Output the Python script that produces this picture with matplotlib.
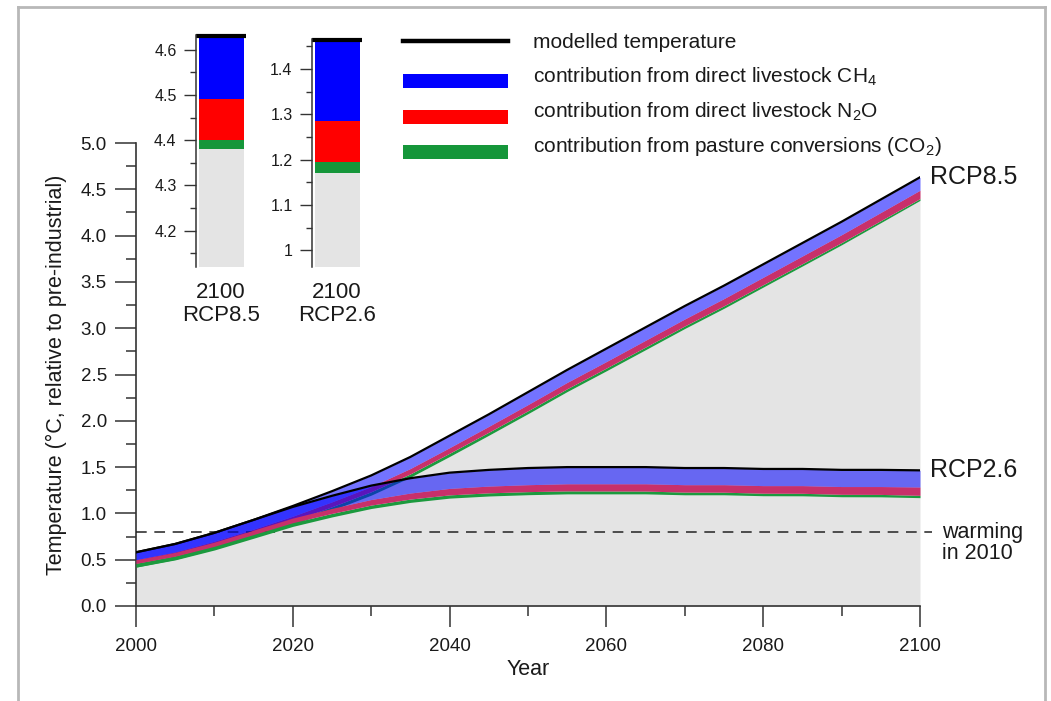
"""Livestock contribution to modelled warming, RCP8.5 vs RCP2.6, redrawn with matplotlib."""
import matplotlib

matplotlib.use("Agg")
import matplotlib.pyplot as plt  # noqa: E402
from matplotlib.lines import Line2D  # noqa: E402
from matplotlib.patches import Rectangle  # noqa: E402
from matplotlib.ticker import MultipleLocator, FormatStrFormatter, FuncFormatter  # noqa: E402

plt.rcParams["font.family"] = ["Liberation Sans", "DejaVu Sans"]
plt.rcParams["mathtext.fontset"] = "custom"
plt.rcParams["mathtext.rm"] = "Liberation Sans"
plt.rcParams["mathtext.it"] = "Liberation Sans:italic"

# ---------------------------------------------------------------- data
years = list(range(2000, 2101, 5))

rcp85_temp = [0.58, 0.67, 0.79, 0.93, 1.08, 1.24, 1.41, 1.61, 1.84, 2.07, 2.31,
              2.55, 2.78, 3.01, 3.24, 3.46, 3.69, 3.92, 4.15, 4.39, 4.63]
rcp85_ch4 = [0.08, 0.085, 0.09, 0.10, 0.11, 0.115, 0.12, 0.125, 0.13, 0.13, 0.135,
             0.135, 0.14, 0.14, 0.14, 0.14, 0.14, 0.14, 0.14, 0.14, 0.14]
rcp85_n2o = [0.04, 0.042, 0.045, 0.048, 0.05, 0.053, 0.056, 0.058, 0.06, 0.063, 0.066,
             0.068, 0.07, 0.073, 0.075, 0.078, 0.08, 0.083, 0.085, 0.088, 0.09]
rcp85_co2 = [0.04, 0.04, 0.04, 0.04, 0.04, 0.038, 0.037, 0.036, 0.035, 0.033, 0.032,
             0.031, 0.03, 0.029, 0.028, 0.027, 0.026, 0.025, 0.024, 0.022, 0.02]

rcp26_temp = [0.58, 0.67, 0.79, 0.93, 1.07, 1.19, 1.30, 1.38, 1.44, 1.47, 1.49,
              1.50, 1.50, 1.50, 1.49, 1.49, 1.48, 1.48, 1.47, 1.47, 1.465]
rcp26_ch4 = [0.08, 0.09, 0.10, 0.11, 0.12, 0.135, 0.15, 0.16, 0.17, 0.175, 0.18,
             0.18, 0.18, 0.18, 0.18, 0.18, 0.18, 0.18, 0.18, 0.18, 0.18]
rcp26_n2o = [0.04, 0.042, 0.045, 0.048, 0.05, 0.055, 0.06, 0.065, 0.07, 0.073, 0.075,
             0.077, 0.078, 0.079, 0.08, 0.081, 0.082, 0.083, 0.084, 0.085, 0.09]
rcp26_co2 = [0.04, 0.04, 0.04, 0.04, 0.04, 0.038, 0.037, 0.036, 0.035, 0.034, 0.033,
             0.032, 0.031, 0.03, 0.029, 0.028, 0.027, 0.027, 0.026, 0.026, 0.025]

warming_2010 = 0.8

legend_labels = ["modelled temperature",
                 "contribution from direct livestock CH$_4$",
                 "contribution from direct livestock N$_2$O",
                 "contribution from pasture conversions (CO$_2$)"]

# ---------------------------------------------------------------- style
BLUE_BAND = "#0000ff"
RED_BAND = "#c8306a"
GREEN_BAND = "#1c9a3e"
BLUE_BAR = "#0000ff"
RED_BAR = "#ff0000"
GREEN_BAR = "#15963a"
GRAY = "#e4e4e4"
TEXT = "#1a1a1a"
AXIS = "#333333"

W, H = 1051, 701


def px(x, y):
    """pixel position (top-left origin) -> figure fraction"""
    return x / W, 1 - y / H


def stack(temp, ch4, n2o, co2):
    b1 = [t - a for t, a in zip(temp, ch4)]
    b2 = [t - b for t, b in zip(b1, n2o)]
    b3 = [t - c for t, c in zip(b2, co2)]
    return b1, b2, b3


fig = plt.figure(figsize=(W / 100, H / 100), dpi=100)

# light frame around the figure
frame = dict(color="#b8b8b8", linewidth=2, transform=fig.transFigure)
fig.add_artist(Line2D([px(18, 0)[0]] * 2, [px(0, 7)[1], 0], **frame))
fig.add_artist(Line2D([px(18, 0)[0], px(1045, 0)[0]], [px(0, 7)[1]] * 2, **frame))
fig.add_artist(Line2D([px(1045, 0)[0]] * 2, [px(0, 7)[1], 0], **frame))

# ---------------------------------------------------------------- main axes
ax = fig.add_axes([136 / W, 1 - 606 / H, (920 - 136) / W, (606 - 143) / H])
ax.set_xlim(2000, 2100)
ax.set_ylim(0, 5)

b85 = stack(rcp85_temp, rcp85_ch4, rcp85_n2o, rcp85_co2)
b26 = stack(rcp26_temp, rcp26_ch4, rcp26_n2o, rcp26_co2)

ax.fill_between(years, 0, b85[2], color=GRAY, linewidth=0, zorder=1)

for temp, (b1, b2, b3), z in ((rcp85_temp, b85, 2), (rcp26_temp, b26, 4)):
    ax.fill_between(years, b2, b3, color=GREEN_BAND, linewidth=0, zorder=z)
    ax.fill_between(years, b1, b2, color=RED_BAND, linewidth=0, zorder=z)
    ax.fill_between(years, temp, b1, color=BLUE_BAND, alpha=0.55, linewidth=0, zorder=z)
    ax.plot(years, temp, color="black", linewidth=1.6, zorder=z + 1)

ax.plot([2000, 2101.5], [warming_2010] * 2, color="#222222", linewidth=1.1,
        dashes=(7, 5), clip_on=False, zorder=3)

for lab, temp in (("RCP8.5", rcp85_temp), ("RCP2.6", rcp26_temp)):
    ax.annotate(lab, xy=(years[-1], temp[-1]), xytext=(7, 0),
                textcoords="offset points", va="center", ha="left", fontsize=18,
                color=TEXT, annotation_clip=False)
ax.text(2102.8, 0.905, "warming\nin 2010", va="top", ha="left", fontsize=15.5,
        color=TEXT, linespacing=1.0, clip_on=False)

for s in ("top", "right"):
    ax.spines[s].set_visible(False)
for s in ("left", "bottom"):
    ax.spines[s].set_color(AXIS)
    ax.spines[s].set_linewidth(1.2)

ax.xaxis.set_major_locator(MultipleLocator(20))
ax.xaxis.set_minor_locator(MultipleLocator(10))
ax.yaxis.set_major_locator(MultipleLocator(0.5))
ax.yaxis.set_minor_locator(MultipleLocator(0.25))
ax.yaxis.set_major_formatter(FormatStrFormatter("%.1f"))
ax.tick_params(which="major", length=15, width=1.1, color=AXIS, labelsize=13.5,
               labelcolor=TEXT, pad=6)
ax.tick_params(axis="x", which="major", pad=8)
ax.tick_params(which="minor", length=7, width=1.1, color=AXIS)
ax.set_xlabel("Year", fontsize=15.5, color=TEXT, labelpad=3)
ax.set_ylabel("Temperature (°C, relative to pre-industrial)", fontsize=15.5,
              color=TEXT, labelpad=10)

# ---------------------------------------------------------------- 2100 insets
SCALE = 453  # pixels per degree in the insets


def inset(left_px, y0, temp, ch4, n2o, co2, label):
    top = temp + 0.002
    h = (top - y0) * SCALE
    a = fig.add_axes([left_px / W, 1 - 267 / H, 50 / W, h / H])
    a.set_xlim(0, 1)
    a.set_ylim(y0, top)
    base = temp - ch4 - n2o - co2
    a.bar(0.5, base - y0, bottom=y0, width=0.9, color=GRAY, linewidth=0)
    a.bar(0.5, co2, bottom=base, width=0.9, color=GREEN_BAR, linewidth=0)
    a.bar(0.5, n2o, bottom=base + co2, width=0.9, color=RED_BAR, linewidth=0)
    a.bar(0.5, ch4, bottom=base + co2 + n2o, width=0.9, color=BLUE_BAR, linewidth=0)
    a.plot([0, 1], [temp, temp], color="black", linewidth=3, clip_on=False,
           solid_capstyle="butt")
    for s in ("top", "right", "bottom"):
        a.spines[s].set_visible(False)
    a.spines["left"].set_color(AXIS)
    a.spines["left"].set_linewidth(1.1)
    a.set_xticks([])
    a.yaxis.set_major_locator(MultipleLocator(0.1))
    a.yaxis.set_minor_locator(MultipleLocator(0.05))
    a.yaxis.set_major_formatter(FuncFormatter(lambda v, _: f"{v:g}"))
    a.tick_params(which="major", length=9, width=1, color=AXIS, labelsize=11.5,
                  labelcolor=TEXT, pad=5)
    a.tick_params(which="minor", length=4, width=1, color=AXIS)
    a.text(0.5, -0.065, label, transform=a.transAxes, ha="center", va="top",
           fontsize=16, color=TEXT, linespacing=1.15)
    return a


inset(196, 4.12, rcp85_temp[-1], rcp85_ch4[-1], rcp85_n2o[-1], rcp85_co2[-1], "2100\nRCP8.5")
inset(312, 0.963, rcp26_temp[-1], rcp26_ch4[-1], rcp26_n2o[-1], rcp26_co2[-1], "2100\nRCP2.6")

# ---------------------------------------------------------------- legend
lx0, lx1, tx = 403, 508, 533
rows = [41, 81, 117, 152]
fig.add_artist(Line2D([px(lx0, 0)[0], px(lx1, 0)[0]], [px(0, rows[0])[1]] * 2,
                      color="black", linewidth=3.2, transform=fig.transFigure))
for yc, c in zip(rows[1:], (BLUE_BAR, RED_BAR, GREEN_BAR)):
    x0, y0 = px(lx0, yc + 7)
    fig.add_artist(Rectangle((x0, y0), (lx1 - lx0) / W, 14 / H, color=c,
                             linewidth=0, transform=fig.transFigure))
for yc, lab in zip([43, 77, 112, 146], legend_labels):
    fig.text(*px(tx, yc), lab, ha="left", va="center", fontsize=15, color=TEXT)

fig.savefig("out.png", dpi=100, facecolor="white")
